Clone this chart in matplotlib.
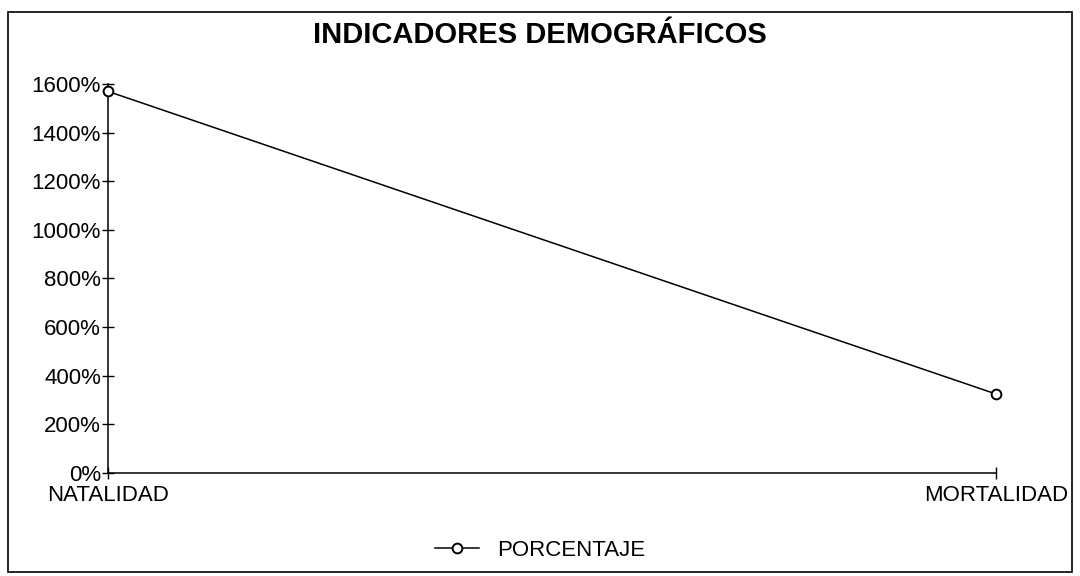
import matplotlib
matplotlib.use("Agg")
import matplotlib.pyplot as plt
from matplotlib.patches import Rectangle
from matplotlib.ticker import FuncFormatter

# data
categorias = ["NATALIDAD", "MORTALIDAD"]
porcentaje = [1570, 325]
yticks = [0, 200, 400, 600, 800, 1000, 1200, 1400, 1600]

plt.rcParams['font.family'] = ['Liberation Sans', 'DejaVu Sans']

fig = plt.figure(figsize=(10.8, 5.76), dpi=100)
ax = fig.add_axes([0.1, 0.179, 0.822, 0.675])

x = list(range(len(categorias)))
ax.plot(x, porcentaje, color="black", linewidth=1.1, marker="o",
        markersize=7, markerfacecolor="white", markeredgecolor="black",
        markeredgewidth=1.4, label="PORCENTAJE", clip_on=False, zorder=5)

ax.set_xlim(0, 1)
ax.set_ylim(0, 1600)
ax.set_xticks(x)
ax.set_xticklabels(categorias, fontsize=16)
ax.set_yticks(yticks)
ax.yaxis.set_major_formatter(FuncFormatter(lambda v, p: f"{int(v)}%"))
ax.tick_params(axis="y", labelsize=16, direction="inout", length=8, width=1, pad=1)
ax.tick_params(axis="x", direction="inout", length=8, width=1, pad=5)

for s in ["top", "right"]:
    ax.spines[s].set_visible(False)
ax.spines["left"].set_linewidth(1.1)
ax.spines["bottom"].set_linewidth(1.1)

fig.text(0.5, 0.94, "INDICADORES DEMOGRÁFICOS", ha="center", va="center",
         fontsize=21, fontweight="bold")

ax.legend(loc="center", bbox_to_anchor=(0.5, 0.045), bbox_transform=fig.transFigure,
          frameon=False, fontsize=16, handlelength=2.0, handletextpad=0.8)

fig.patches.append(Rectangle((0.007, 0.007), 0.986, 0.972, transform=fig.transFigure,
                             fill=False, edgecolor="black", linewidth=1.2))

fig.savefig("out.png", dpi=100)
